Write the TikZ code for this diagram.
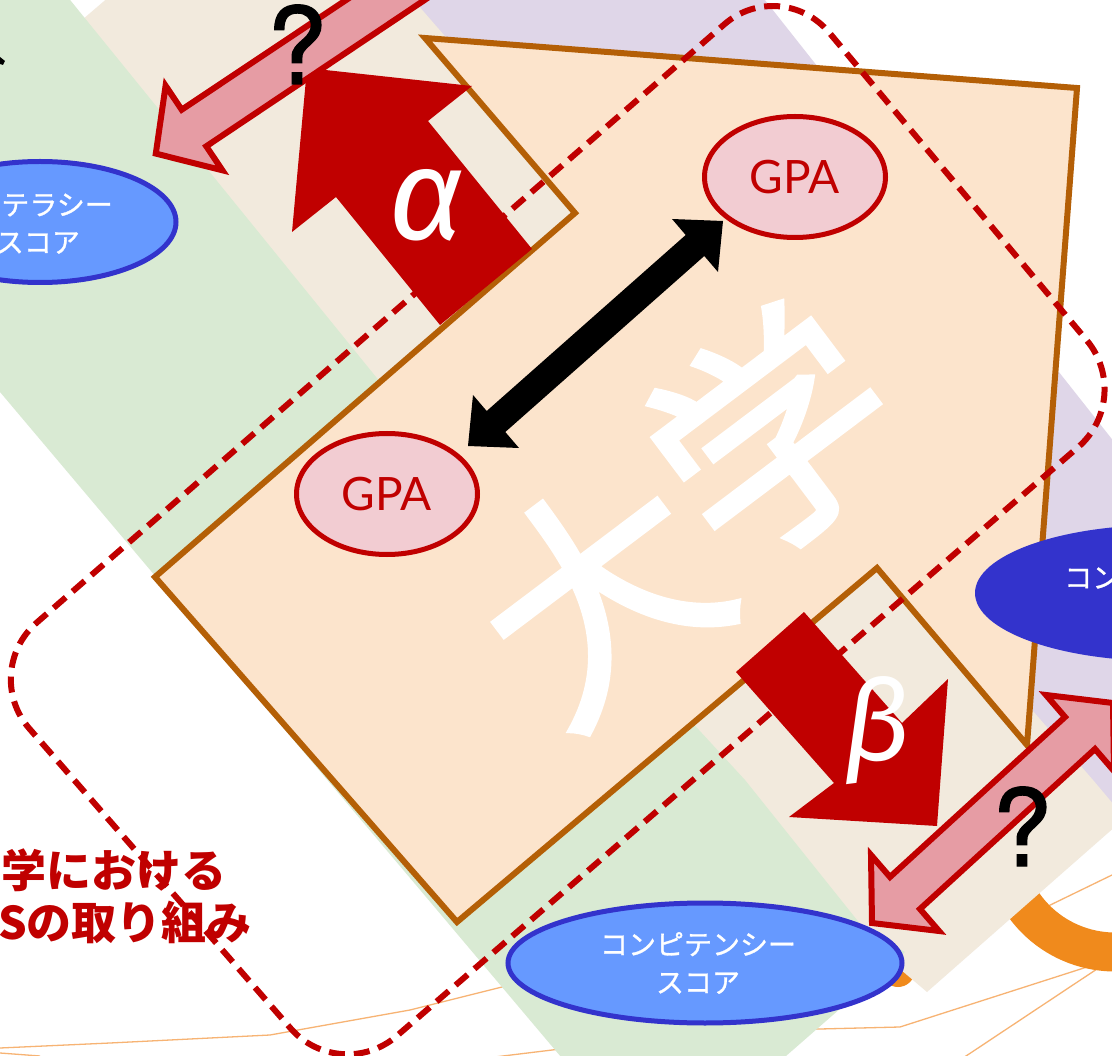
\documentclass[tikz,border=0pt]{standalone}
\usepackage{fontspec}
\usetikzlibrary{shapes.geometric}
\newfontfamily\gillfont{Lato}
\newfontfamily\herosfont{TeX Gyre Heros}[FakeBold=1.2]
\newfontfamily\jpfont{Noto Sans CJK JP}
\newfontfamily\jpmed{Noto Sans CJK JP}[FakeBold=1.0]
\newfontfamily\jpfat{Noto Sans CJK JP}[FakeBold=2.0]
\newfontfamily\grkfont{Fira Sans}
\definecolor{bgreen}{HTML}{D9EAD3}
\definecolor{bbeige}{HTML}{F2EADD}
\definecolor{bpurple}{HTML}{DFD6E8}
\definecolor{boxfill}{HTML}{FCE4CC}
\definecolor{boxline}{HTML}{B45F06}
\definecolor{dred}{HTML}{C00000}
\definecolor{gpafill}{HTML}{F2CCD2}
\definecolor{pinkarr}{HTML}{E69CA4}
\definecolor{lblue}{HTML}{6699FF}
\definecolor{dblue}{HTML}{3333CC}
\definecolor{ringor}{HTML}{F08A1C}
\definecolor{thinor}{HTML}{F7B373}
\begin{document}
\begin{tikzpicture}[x=1pt,y=-1pt,
  gpa/.style={ellipse, draw=dred, line width=5pt, fill=gpafill, text=dred,
    font=\gillfont\fontsize{46}{46}\selectfont, inner sep=0pt,
    minimum width=181pt, minimum height=121pt},
  score/.style={ellipse, draw=dblue, line width=5pt, fill=lblue, inner sep=0pt},
  jtext/.style={text=white, font=\jpmed\fontsize{28}{38}\selectfont, align=center, inner sep=0pt},
  qmark/.style={font=\herosfont\fontsize{107}{107}\selectfont, inner sep=0pt, anchor=base},
  pinkarrow/.style={fill=pinkarr, draw=dred, line width=6pt, line join=miter, miter limit=10},
  redarrow/.style={fill=dred},
  greek/.style={text=white, font=\grkfont\itshape\fontsize{130}{130}\selectfont, inner sep=0pt},
  thinline/.style={draw=thinor, line width=1.3pt},
  redtitle/.style={text=dred, font=\jpfont\bfseries\fontsize{45}{45}\selectfont, inner sep=0pt},
  dashframe/.style={draw=dred, line width=6pt, dash pattern=on 16pt off 9pt, rounded corners=75pt},
  boxstyle/.style={fill=boxfill, draw=boxline, line width=6pt, line join=miter},
  bigchar/.style={rotate=37, text=white, font=\jpfat\fontsize{233}{233}\selectfont, inner sep=0pt},
]
\useasboundingbox (0,0) rectangle (1112,1056);
\clip (0,0) rectangle (1112,1056);
\fill[white] (0,0) rectangle (1112,1056);

% thin orange lines
\draw[thinline] (0,1048) -- (110,1043) -- (270,1035) -- (410,1010) -- (510,985);
\draw[thinline] (0,1053) -- (40,1056);
\draw[thinline] (470,1060) -- (700,1032) -- (900,1027) -- (1087,967) -- (1112,950);
\draw[thinline] (960,1060) -- (1100,967) -- (1112,962);
\draw[thinline] (1040,910) -- (1112,875);

% orange ring
\draw[ringor, line width=39pt] (1115,840) ++(60:112) arc[start angle=60, end angle=220, radius=112];
\fill[ringor] (898,970) circle (17);

% bands
\fill[bpurple] (380,-10) -- (757,-10) -- (1130,462) -- (1130,840) -- (960,650) -- cycle;
\fill[bbeige] (75,26) -- (110,-4) -- (410,-4) -- (1093,780) -- (1125,818) -- (927,992) -- (860,935) -- (725,780) -- (370,393) -- cycle;
\fill[bgreen] (-10,-10) -- (62,-10) -- (389,393) -- (745,780) -- (865,930) -- (905,952) -- (770,1070) -- (572,1070) -- (0,392) -- (-10,380) -- cycle;

% small black mark
\fill[black] (0,57) -- (5,61) -- (3,65) -- (0,64) -- cycle;

% university box
\draw[boxstyle] (425,38) -- (1077,88) -- (1027,745) -- (877,568) -- (457,922) -- (155,577) -- (575,213) -- cycle;

% dashed frame
\draw[dashframe] (380.5,323.5) -- (781,-25) -- (1135,398) -- (340,1085) -- (-20,672) -- cycle;

% alpha arrow
\fill[redarrow] (532,249) -- (428,121) -- (472,86) -- (307,68) -- (292,232) -- (336,197) -- (440,325) -- cycle;
\node[greek] (alab) at (427,205) {α};

% beta arrow
\fill[redarrow] (804,612) -- (902,723) -- (948,679) -- (937,826) -- (789,817) -- (834,783) -- (736,672) -- cycle;
\node[greek, font=\grkfont\itshape\fontsize{112}{112}\selectfont] (blab) at (877,731) {β};

% black double arrow
\fill[black] (723,221) -- (718,272) -- (704.3,256) -- (505.3,432) -- (519,448) -- (468,446) -- (473,395) -- (486.7,411) -- (685.7,235) -- (672,219) -- cycle;

% GPA ellipses
\node[gpa] (gpatop) at (795,177) {GPA};
\node[gpa] (gpaleft) at (387,494) {GPA};

% big text
\node[bigchar] (dai) at (599,593) {大};
\node[bigchar] (gaku) at (772,433) {学};

% score ellipses
\node[score, minimum width=272pt, minimum height=121pt] (litscore) at (40,222) {};
\node[jtext, anchor=east] (lit1) at (113,205) {テラシー};
\node[jtext, anchor=east] (lit2) at (80,243) {スコア};
\node[score, minimum width=394pt, minimum height=120pt] (compscore) at (705,963) {};
\node[jtext] (comptext) at (698,963) {コンピテンシー\\スコア};
\node[ellipse, fill=dblue, draw=none, minimum width=374pt, minimum height=136pt, inner sep=0pt] (compright) at (1162,593) {};
\node[jtext, anchor=west] (comprtext) at (1064,578) {コン};

% pink question arrows
\draw[pinkarrow] (155.8,153.6) -- (222.4,170.3) -- (206.3,146.3) -- (538,-76) -- (514,-112) -- (181.7,109.7) -- (165.6,85.7) -- cycle;
\draw[pinkarrow] (872,923) -- (939,931) -- (920,909) -- (1095,749) -- (1114,771) -- (1113,703) -- (1046,695) -- (1065,717) -- (890,877) -- (871,855) -- cycle;
\node[qmark] (q1) at (297,84) {?};
\node[qmark] (q2) at (1022,866) {?};

% red title
\node[redtitle, anchor=east] (title1) at (227,870) {学における};
\node[redtitle, anchor=east] (title2) at (252,922) {Sの取り組み};
\end{tikzpicture}
\end{document}
